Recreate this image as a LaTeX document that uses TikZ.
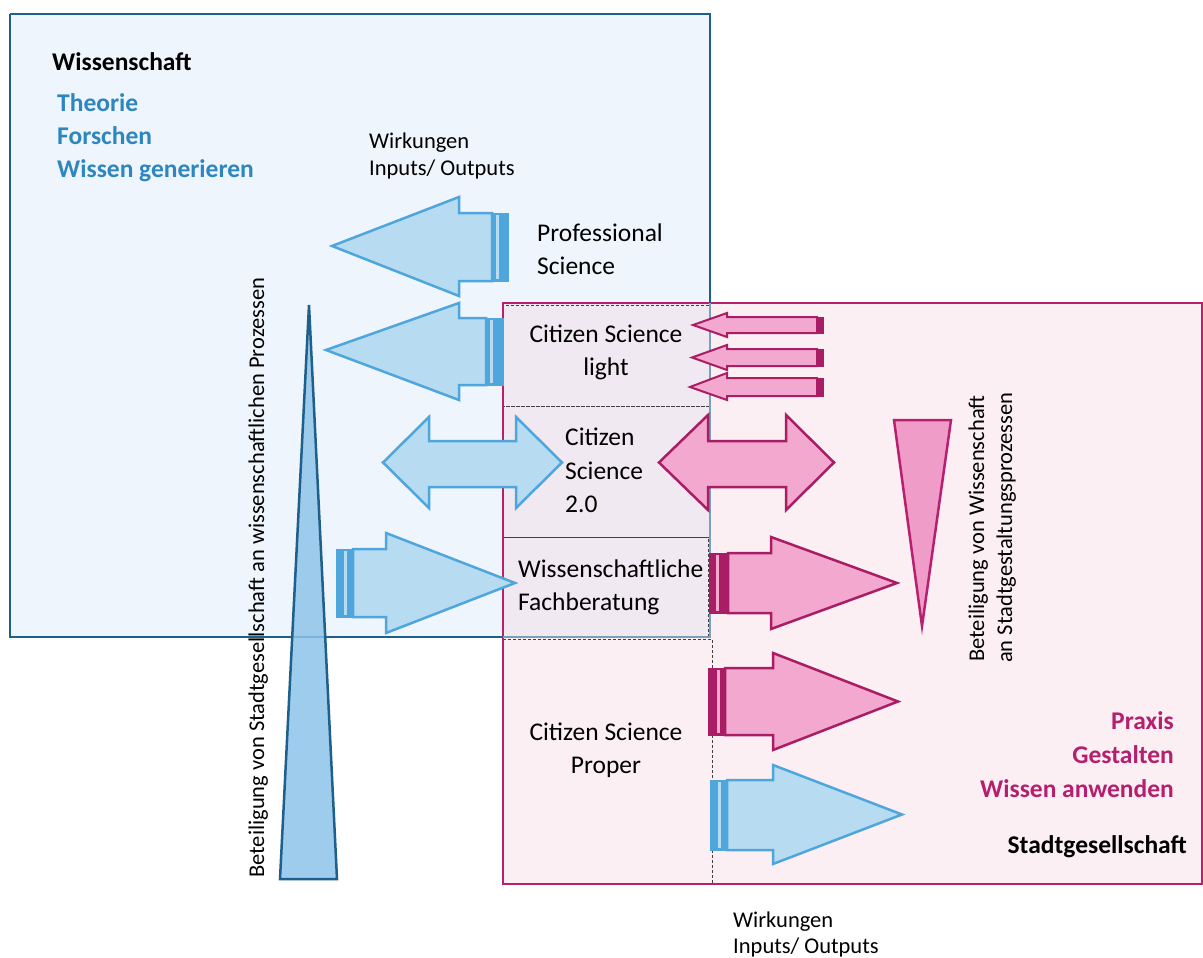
\documentclass[tikz,border=0pt]{standalone}
\usepackage{fontspec}
\setmainfont{Carlito}
\definecolor{bluebg}{HTML}{EEF5FC}
\definecolor{pinkbg}{HTML}{FBEFF4}
\definecolor{overlapbg}{HTML}{F1E9F1}
\definecolor{bluebord}{HTML}{1F5F8B}
\definecolor{magbord}{HTML}{B8206F}
\definecolor{arrblue}{HTML}{B7DBF1}
\definecolor{arrbluestroke}{HTML}{4FA6DC}
\definecolor{arrpink}{HTML}{F3A8D0}
\definecolor{arrpinkstroke}{HTML}{A91D64}
\definecolor{triblue}{HTML}{8EC4EA}
\definecolor{tripink}{HTML}{F09CC8}
\definecolor{textblue}{HTML}{2E86C1}
\definecolor{textmag}{HTML}{B5206E}
\tikzset{
  bluearr/.style={fill=arrblue, draw=arrbluestroke, line width=2.5pt, line join=miter},
  pinkarr/.style={fill=arrpink, draw=arrpinkstroke, line width=2.5pt, line join=miter},
  bluebar/.style={fill=arrbluestroke, draw=arrbluestroke, line width=1pt},
  pinkbar/.style={fill=arrpinkstroke, draw=arrpinkstroke, line width=1pt},
  bluegap/.style={fill=arrblue, draw=none},
  pinkgap/.style={fill=arrpink, draw=none},
  dbox/.style={draw=black!75, dashed, line width=0.8pt, dash pattern=on 3pt off 2pt},
  main/.style={font=\fontsize{25.5}{31}\selectfont, inner sep=0pt},
  small/.style={font=\fontsize{22.5}{27}\selectfont, inner sep=0pt},
  boldblk/.style={font=\fontsize{25.5}{31}\selectfont\bfseries, inner sep=0pt, text=black},
  boldblue/.style={font=\fontsize{25.5}{31}\selectfont\bfseries, inner sep=0pt, text=textblue},
  boldmag/.style={font=\fontsize{25.5}{31}\selectfont\bfseries, inner sep=0pt, text=textmag},
}
\begin{document}
\begin{tikzpicture}[x=1pt,y=-1pt]
\useasboundingbox[fill=white] (0,0) rectangle (1203,958);
% background boxes
\fill[bluebg] (10,14) rectangle (710,637);
\fill[pinkbg] (503,303) rectangle (1202,884);
\fill[overlapbg] (503,303) rectangle (710,637);
% dashed column boxes
\draw[dbox] (503,305) rectangle (710,406);
\draw[dbox] (503,406) rectangle (710,537);
\draw[dbox] (503,537) rectangle (708,637);
\draw[dbox] (503,639) rectangle (712,884);
% borders
\draw[magbord, line width=2pt] (503,303) rectangle (1202,884);
\draw[bluebord, line width=2pt] (10,14) -- (710,14) -- (710,303);
\draw[bluebord, line width=2pt] (10,14) -- (10,637) -- (503,637);
\draw[bluebord!60, line width=2pt] (710,303) -- (710,637) -- (503,637);

% Professional Science arrow (left)
\draw[bluearr] (332,246) -- (459,197) -- (459,213) -- (492,213) -- (492,281) -- (459,281) -- (459,296) -- cycle;
\draw[bluebar] (492,213) rectangle (508,281);
\fill[bluegap] (496,215) rectangle (499,279);

% Citizen Science light arrow (left, blue)
\draw[bluearr] (326,350) -- (459,303) -- (459,318) -- (486,318) -- (486,385) -- (459,385) -- (459,400) -- cycle;
\draw[bluebar] (486,318) rectangle (503,385);
\fill[bluegap] (490,320) rectangle (493,383);

% small pink arrows
\draw[pinkarr, line width=2pt] (693,325) -- (727,313) -- (727,317) -- (817,317) -- (817,333) -- (727,333) -- (727,337) -- cycle;
\draw[pinkbar] (817,317) rectangle (823,333);
\draw[pinkarr, line width=2pt] (692,357.5) -- (727,345) -- (727,349) -- (817,349) -- (817,366) -- (727,366) -- (727,370) -- cycle;
\draw[pinkbar] (817,349) rectangle (823,366);
\draw[pinkarr, line width=2pt] (690,387) -- (727,373) -- (727,378) -- (817,378) -- (817,396) -- (727,396) -- (727,400) -- cycle;
\draw[pinkbar] (817,378) rectangle (823,396);

% double arrows
\draw[bluearr] (383,462.5) -- (429,417) -- (429,441) -- (516,441) -- (516,417) -- (562,462.5) -- (516,508) -- (516,487) -- (429,487) -- (429,508) -- cycle;
\draw[pinkarr] (659,462.5) -- (708,415) -- (708,441) -- (786,441) -- (786,415) -- (834,462.5) -- (786,510) -- (786,487) -- (708,487) -- (708,510) -- cycle;

% Fachberatung blue arrow (right)
\draw[bluearr] (353,549) -- (386,549) -- (386,533) -- (515,583) -- (386,633) -- (386,617) -- (353,617) -- cycle;
\draw[bluebar] (336,549) rectangle (353,617);
\fill[bluegap] (344,551) rectangle (347,615);

% Fachberatung pink arrow (right)
\draw[pinkarr] (728,553) -- (771,553) -- (771,537) -- (897,583) -- (771,629) -- (771,613) -- (728,613) -- cycle;
\draw[pinkbar] (709,553) rectangle (728,613);
\fill[pinkgap] (716,555) rectangle (719,611);

% Proper pink arrow
\draw[pinkarr] (725,668) -- (773,668) -- (773,653) -- (898,701.5) -- (773,750) -- (773,735) -- (725,735) -- cycle;
\draw[pinkbar] (708,668) rectangle (725,735);
\fill[pinkgap] (716.5,670) rectangle (719.5,733);

% Proper blue arrow
\draw[bluearr] (727,780) -- (773,780) -- (773,765) -- (902,814.5) -- (773,864) -- (773,850) -- (727,850) -- cycle;
\draw[bluebar] (710,780) rectangle (727,850);
\fill[bluegap] (718,782) rectangle (721,848);

% triangles
\draw[fill=triblue, fill opacity=0.85, draw=bluebord, line width=2.5pt, line join=miter] (309,305) -- (337,879) -- (280,879) -- cycle;
\draw[fill=tripink, draw=magbord, line width=2.5pt, line join=miter] (894,420) -- (951,420) -- (922,626) -- cycle;

% texts
\node[boldblk, anchor=base west] (ws) at (52,71) {Wissenschaft};
\node[boldblue, anchor=base west] (th) at (57,111) {Theorie};
\node[boldblue, anchor=base west] (fo) at (57,144) {Forschen};
\node[boldblue, anchor=base west] (wg) at (57,177) {Wissen generieren};

\node[small, anchor=base west] (wk1) at (369,148) {Wirkungen};
\node[small, anchor=base west] (io1) at (369,175) {Inputs/ Outputs};

\node[main, anchor=base west] (ps1) at (537,241) {Professional};
\node[main, anchor=base west] (ps2) at (537,274) {Science};

\node[main, anchor=base] (csl1) at (606,342) {Citizen Science};
\node[main, anchor=base] (csl2) at (606,375) {light};

\node[main, anchor=base west] (cs1) at (565,445) {Citizen};
\node[main, anchor=base west] (cs2) at (565,479) {Science};
\node[main, anchor=base west] (cs3) at (565,512) {2.0};

\node[main, anchor=base west] (wf1) at (518,577) {Wissenschaftliche};
\node[main, anchor=base west] (wf2) at (518,610) {Fachberatung};

\node[main, anchor=base] (csp1) at (606,740) {Citizen Science};
\node[main, anchor=base] (csp2) at (606,773) {Proper};

\node[small, anchor=base west, rotate=90] (bl) at (264,878) {Beteiligung von Stadtgesellschaft an wissenschaftlichen Prozessen};
\node[small, anchor=base west, rotate=90] (br1) at (984,662) {Beteiligung von Wissenschaft};
\node[small, anchor=base west, rotate=90] (br2) at (1012,663) {an Stadtgestaltungsprozessen};

\node[boldmag, anchor=base east] (px) at (1174,729) {Praxis};
\node[boldmag, anchor=base east] (gs) at (1174,763) {Gestalten};
\node[boldmag, anchor=base east] (wa) at (1174,797) {Wissen anwenden};
\node[boldblk, anchor=base east] (sg) at (1187,853) {Stadtgesellschaft};

\node[small, anchor=base west] (wk2) at (733,927) {Wirkungen};
\node[small, anchor=base west] (io2) at (733,953) {Inputs/ Outputs};
\end{tikzpicture}
\end{document}
